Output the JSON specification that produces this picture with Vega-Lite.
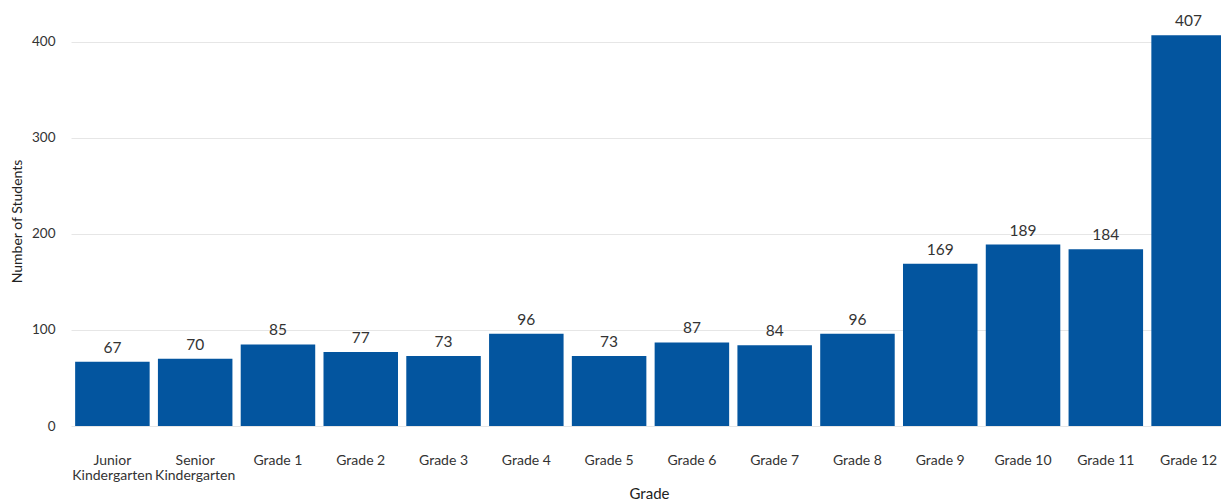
{
  "$schema": "https://vega.github.io/schema/vega-lite/v6.json",
  "width": 1159,
  "height": 410,
  "autosize": {"type": "none"},
  "padding": {"left": 62, "top": 16, "right": 0, "bottom": 76},
  "background": "white",
  "config": {
    "font": "Lato",
    "view": {"stroke": null},
    "axis": {"labelFont": "Lato", "titleFont": "Lato", "labelColor": "#333333", "titleColor": "#222222", "titleFontWeight": "normal"}
  },
  "data": {
    "values": [
      {"grade": "Junior Kindergarten", "students": 67},
      {"grade": "Senior Kindergarten", "students": 70},
      {"grade": "Grade 1", "students": 85},
      {"grade": "Grade 2", "students": 77},
      {"grade": "Grade 3", "students": 73},
      {"grade": "Grade 4", "students": 96},
      {"grade": "Grade 5", "students": 73},
      {"grade": "Grade 6", "students": 87},
      {"grade": "Grade 7", "students": 84},
      {"grade": "Grade 8", "students": 96},
      {"grade": "Grade 9", "students": 169},
      {"grade": "Grade 10", "students": 189},
      {"grade": "Grade 11", "students": 184},
      {"grade": "Grade 12", "students": 407}
    ]
  },
  "encoding": {
    "x": {
      "field": "grade",
      "type": "nominal",
      "sort": null,
      "title": "Grade",
      "scale": {"range": [9, 1168], "paddingInner": 0.1, "paddingOuter": 0.05},
      "axis": {
        "labelAngle": 0,
        "ticks": false,
        "domain": false,
        "grid": false,
        "labelFontSize": 14,
        "labelPadding": 27,
        "labelBaseline": "top",
        "labelLineHeight": 15,
        "labelExpr": "indexof(datum.value, 'Kindergarten') > 0 ? split(datum.value, ' ') : datum.value",
        "titleFontSize": 15,
        "titlePadding": 4,
        "titleX": 587
      }
    },
    "y": {
      "field": "students",
      "type": "quantitative",
      "title": "Number of Students",
      "scale": {"domain": [0, 427], "nice": false, "zero": true},
      "axis": {
        "values": [0, 100, 200, 300, 400],
        "ticks": false,
        "domain": false,
        "grid": true,
        "gridColor": "#e6e6e6",
        "gridWidth": 1,
        "labelFontSize": 13.5,
        "labelPadding": 7,
        "titleFontSize": 14,
        "titlePadding": 7
      }
    }
  },
  "layer": [
    {"mark": {"type": "bar", "color": "#03559f"}},
    {
      "mark": {"type": "text", "baseline": "bottom", "dy": -6, "fontSize": 15.5, "color": "#333333", "font": "Lato"},
      "encoding": {"text": {"field": "students", "type": "quantitative"}}
    }
  ]
}
